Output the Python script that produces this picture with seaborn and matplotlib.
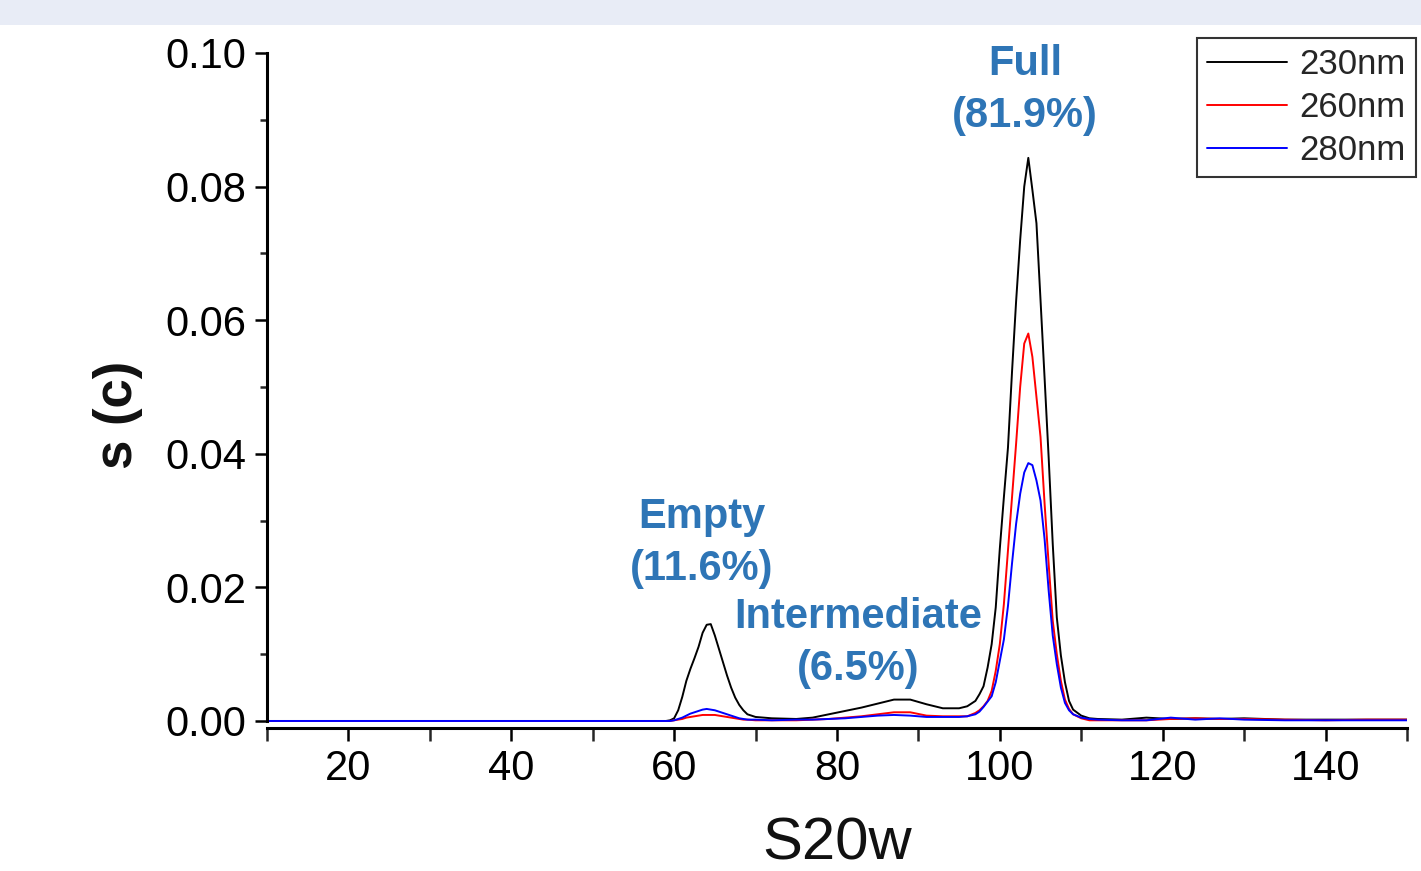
import matplotlib
matplotlib.use("Agg")
import matplotlib.pyplot as plt
import matplotlib.patches as mpatches
from matplotlib.ticker import MultipleLocator
import seaborn as sns
import pandas as pd

# ---------------- data ----------------
s20w = [10, 20, 30, 40, 50,
        59, 59.5, 60, 60.5, 61, 61.5, 62, 62.5, 63, 63.5, 64, 64.5, 65, 65.5, 66, 66.5, 67, 67.5, 68, 68.5, 69,
        70, 72, 75, 77, 79, 81, 83, 85, 87, 89, 91, 93, 95, 96,
        97, 97.5, 98, 98.5, 99, 99.5, 100, 100.5, 101, 101.5, 102, 102.5, 103, 103.5, 104, 104.5, 105, 105.5,
        106, 106.5, 107, 107.5, 108, 108.5, 109,
        110, 111, 112, 115, 118, 121, 124, 127, 130, 135, 140, 145, 150]

sig_230 = [0.0000, 0.0000, 0.0000, 0.0000, 0.0000,
           0.0000, 0.0001, 0.0004, 0.0016, 0.0036, 0.0060, 0.0078, 0.0094, 0.0111, 0.0132, 0.0144, 0.0145, 0.0128,
           0.0108, 0.0088, 0.0068, 0.0050, 0.0035, 0.0024, 0.0016, 0.0010,
           0.0006, 0.0004, 0.0003, 0.0005, 0.0010, 0.0015, 0.0020, 0.0026, 0.0032, 0.0032, 0.0025, 0.0019, 0.0019, 0.0022,
           0.0030, 0.0040, 0.0052, 0.0080, 0.0115, 0.0170, 0.0258, 0.0335, 0.0409, 0.0523, 0.0628, 0.0720, 0.0800,
           0.0843, 0.0795, 0.0745, 0.0630, 0.0513, 0.0394, 0.0265, 0.0155, 0.0098, 0.0058, 0.0030, 0.0017,
           0.0008, 0.0004, 0.0003, 0.0002, 0.0005, 0.0003, 0.0004, 0.0003, 0.0004, 0.0002, 0.0002, 0.0002, 0.0002]

sig_260 = [0.0000, 0.0000, 0.0000, 0.0000, 0.0000,
           0.0000, 0.0000, 0.0001, 0.0002, 0.0003, 0.0005, 0.0006, 0.0007, 0.0008, 0.0009, 0.0009, 0.0009, 0.0009,
           0.0008, 0.0007, 0.0006, 0.0005, 0.0004, 0.0003, 0.0002, 0.0002,
           0.0001, 0.0001, 0.0001, 0.0002, 0.0003, 0.0005, 0.0007, 0.0010, 0.0013, 0.0013, 0.0008, 0.0007, 0.0007, 0.0007,
           0.0012, 0.0016, 0.0022, 0.0030, 0.0045, 0.0075, 0.0115, 0.0175, 0.0255, 0.0335, 0.0415, 0.0500, 0.0565,
           0.0580, 0.0545, 0.0485, 0.0425, 0.0325, 0.0235, 0.0150, 0.0100, 0.0060, 0.0032, 0.0018, 0.0010,
           0.0004, 0.0001, 0.0001, 0.0001, 0.0001, 0.0003, 0.0004, 0.0003, 0.0003, 0.0002, 0.0001, 0.0002, 0.0002]

sig_280 = [0.0000, 0.0000, 0.0000, 0.0000, 0.0000,
           0.0000, 0.0000, 0.0001, 0.0003, 0.0005, 0.0008, 0.0011, 0.0013, 0.0015, 0.0017, 0.0018, 0.0017, 0.0016,
           0.0014, 0.0012, 0.0010, 0.0008, 0.0006, 0.0004, 0.0003, 0.0002,
           0.0002, 0.0001, 0.0002, 0.0002, 0.0003, 0.0004, 0.0006, 0.0008, 0.0009, 0.0008, 0.0006, 0.0006, 0.0006, 0.0007,
           0.0010, 0.0014, 0.0021, 0.0029, 0.0037, 0.0058, 0.0090, 0.0122, 0.0172, 0.0236, 0.0295, 0.0340, 0.0372,
           0.0386, 0.0383, 0.0360, 0.0330, 0.0272, 0.0195, 0.0128, 0.0085, 0.0050, 0.0027, 0.0016, 0.0010,
           0.0005, 0.0003, 0.0002, 0.0001, 0.0001, 0.0005, 0.0002, 0.0004, 0.0002, 0.0001, 0.0001, 0.0001, 0.0001]

series_names = ["230nm", "260nm", "280nm"]
series_colors = ["#000000", "#ff0000", "#0000ff"]

annotations = [("Full\n(81.9%)", 103.1, 0.0944),
               ("Empty\n(11.6%)", 63.4, 0.0266),
               ("Intermediate\n(6.5%)", 82.6, 0.01165)]

x_ticks = [20, 40, 60, 80, 100, 120, 140]
y_ticks = [0.00, 0.02, 0.04, 0.06, 0.08, 0.10]

# ---------------- build long table ----------------
rows = []
for name, vals in zip(series_names, [sig_230, sig_260, sig_280]):
    for xv, yv in zip(s20w, vals):
        rows.append({"S20w": xv, "s (c)": yv, "wl": name})
df = pd.DataFrame(rows)

# ---------------- style ----------------
sns.set_style("ticks")
plt.rcParams["font.family"] = ["Liberation Sans", "DejaVu Sans"]

fig = plt.figure(figsize=(14.21, 8.71), dpi=100)
fig.patch.set_facecolor("white")
fig.patches.append(mpatches.Rectangle((0, 0.9713), 1, 0.0287, transform=fig.transFigure,
                                      facecolor="#e8ecf6", edgecolor="none", zorder=0))

ax = fig.add_axes([0.1879, 0.1642, 0.8022, 0.7750])

sns.lineplot(data=df, x="S20w", y="s (c)", hue="wl", hue_order=series_names,
             palette=dict(zip(series_names, series_colors)), linewidth=1.4, ax=ax,
             estimator=None, sort=True)

ax.set_xlim(10, 150)
ax.set_ylim(-0.00105, 0.100)
ax.set_xticks(x_ticks)
ax.set_yticks(y_ticks)
ax.set_yticklabels([f"{v:.2f}" for v in y_ticks])
ax.xaxis.set_minor_locator(MultipleLocator(10))
ax.yaxis.set_minor_locator(MultipleLocator(0.01))

for side in ["top", "right"]:
    ax.spines[side].set_visible(False)
for side in ["left", "bottom"]:
    ax.spines[side].set_linewidth(2.2)
    ax.spines[side].set_color("black")
ax.spines["left"].set_bounds(0.0, 0.10)

ax.tick_params(axis="both", which="major", direction="out", length=9, width=1.8,
               labelsize=30, colors="black", pad=6)
ax.tick_params(axis="x", which="minor", direction="out", length=9, width=1.8)
ax.tick_params(axis="y", which="minor", direction="out", length=5, width=1.8)

ax.set_xlabel("S20w", fontsize=43, labelpad=20, color="#111111")
ax.set_ylabel("s (c)", fontsize=38, fontweight="bold", color="#111111")
ax.yaxis.set_label_coords(-0.1307, 0.4637)
ax.yaxis.label.set_verticalalignment("center")

for txt, xv, yv in annotations:
    ax.text(xv, yv, txt, ha="center", va="center", fontsize=30, fontweight="bold",
            color="#2e75b6", linespacing=1.38)

leg = ax.legend(loc="upper right", bbox_to_anchor=(0.9965, 0.9564), bbox_transform=fig.transFigure,
                borderaxespad=0, fontsize=25, frameon=True, fancybox=False,
                handlelength=2.3, handletextpad=0.35, labelspacing=0.28, borderpad=0.3,
                title=None)
leg.get_frame().set_edgecolor("black")
leg.get_frame().set_linewidth(1.5)
for line in leg.get_lines():
    line.set_linewidth(1.4)

fig.savefig("out.png", dpi=100)
